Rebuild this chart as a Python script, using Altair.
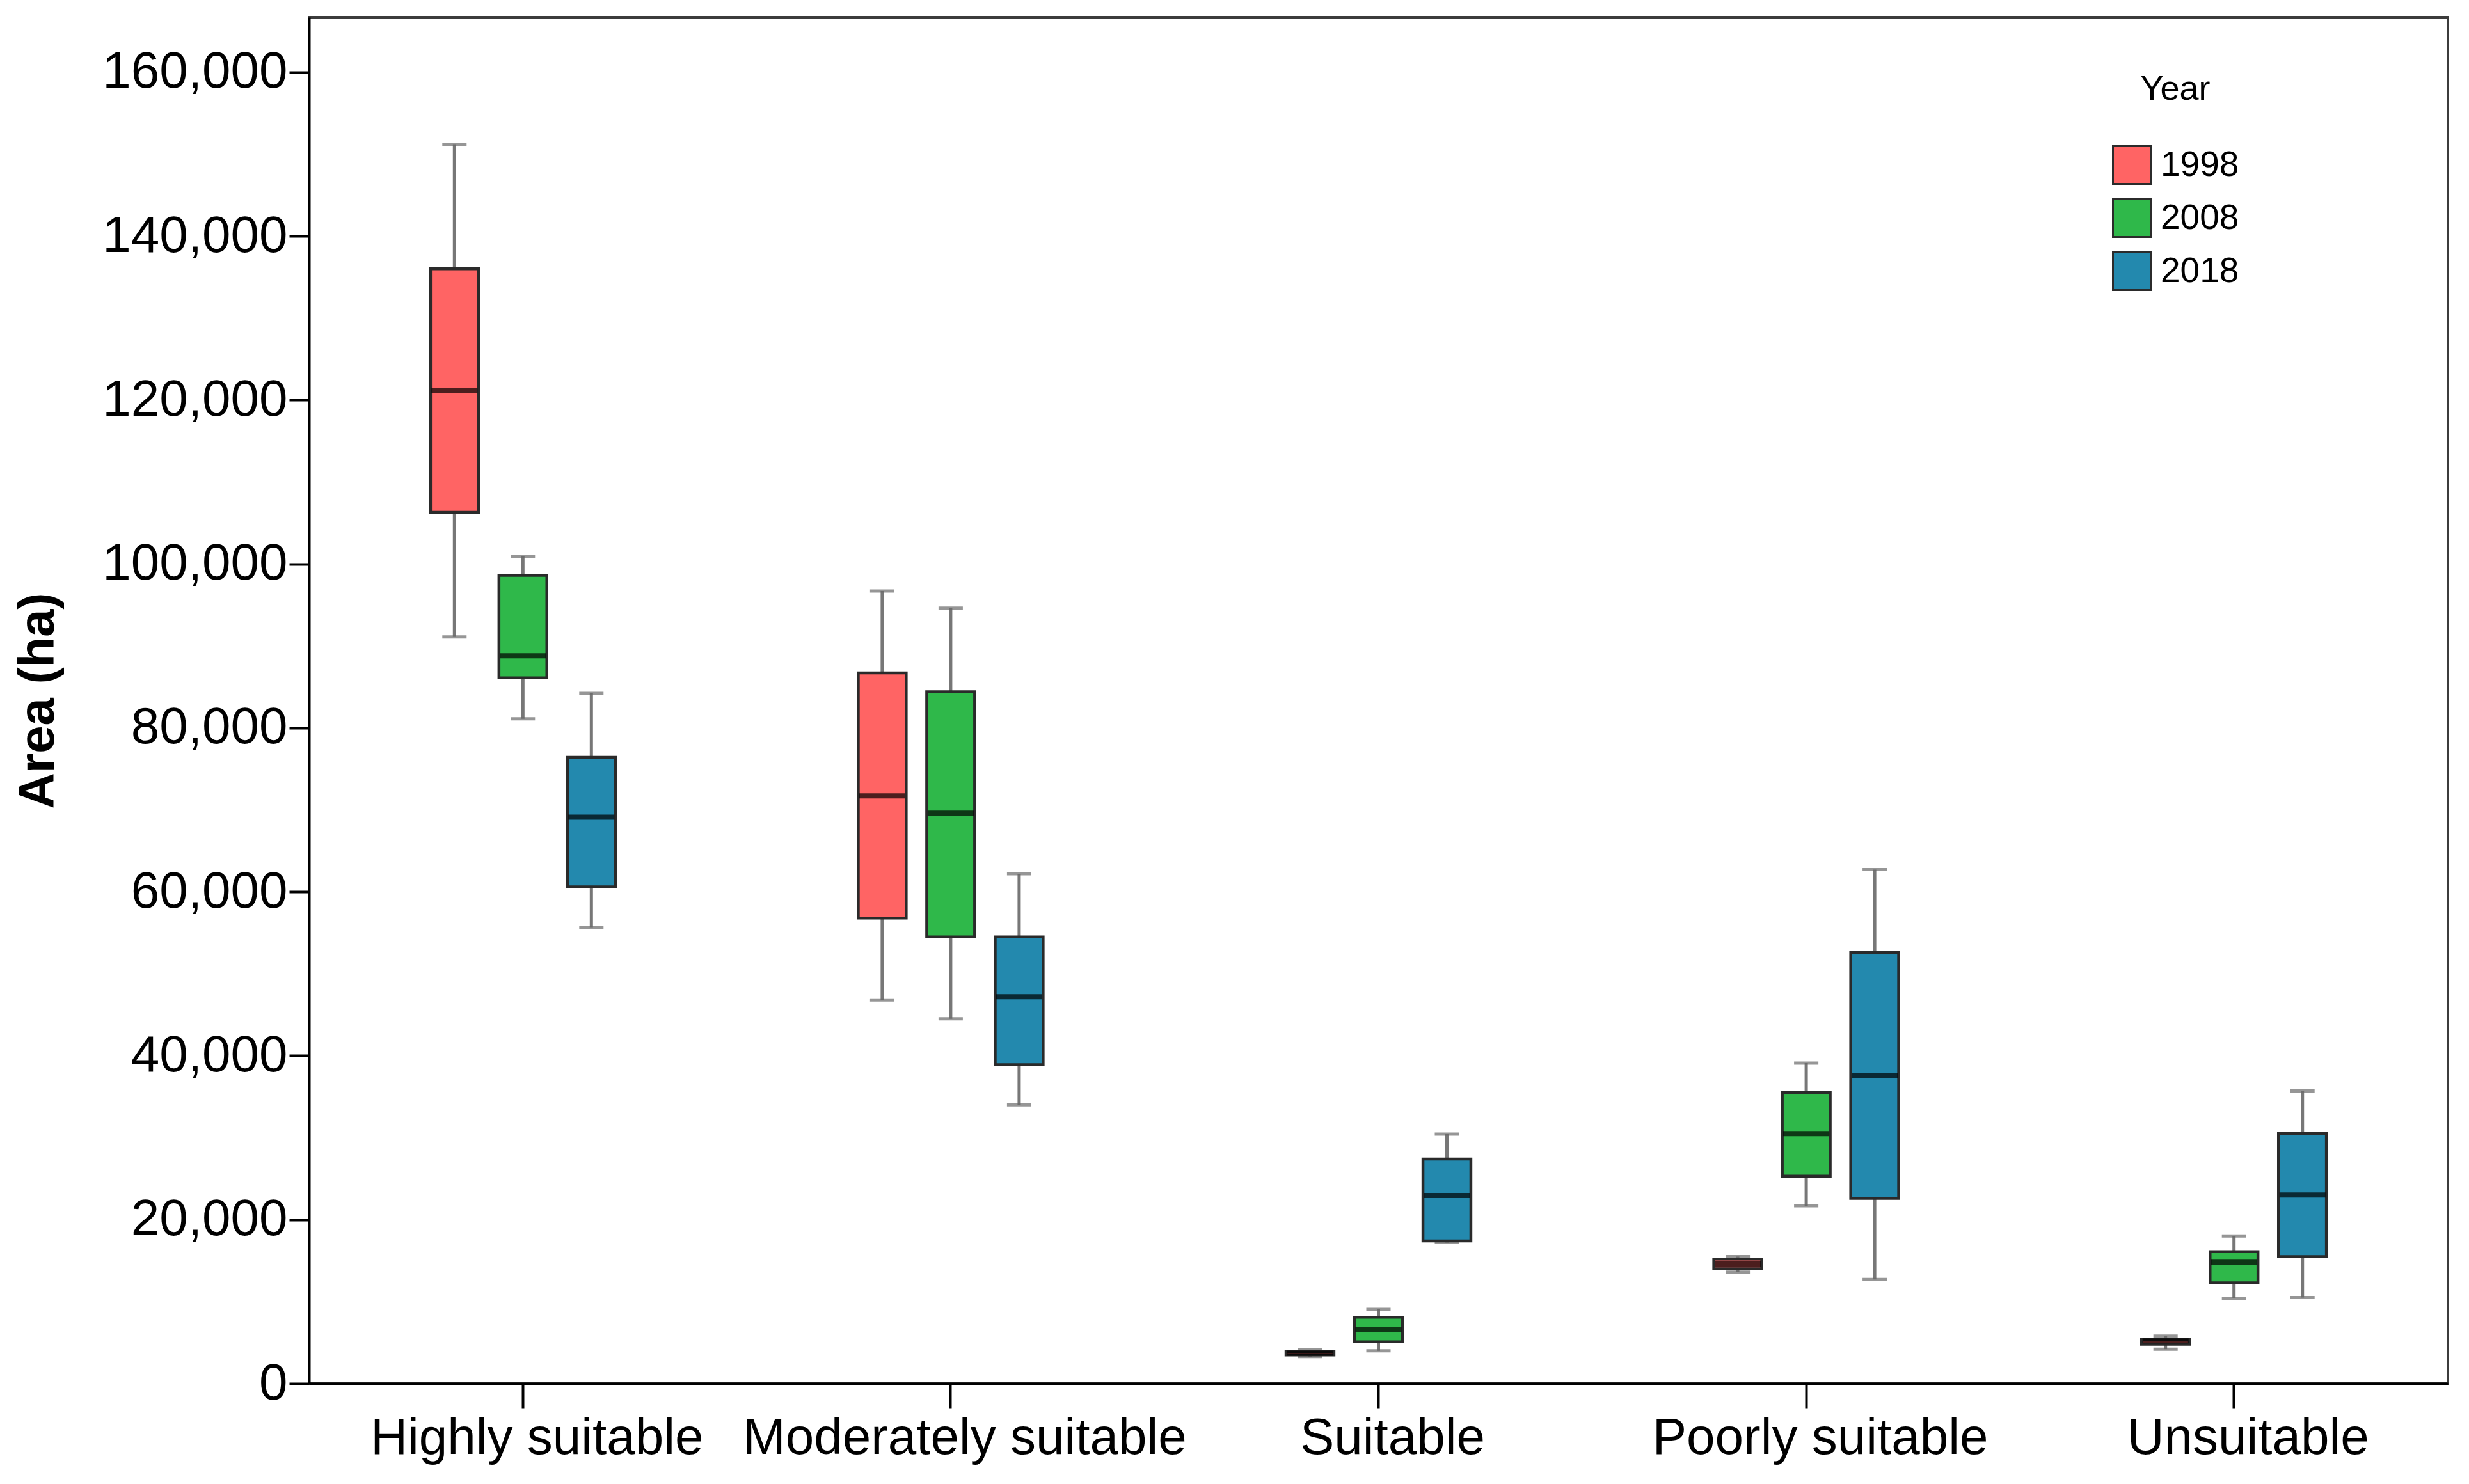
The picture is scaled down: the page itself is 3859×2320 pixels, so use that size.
import altair as alt
import pandas as pd

categories = ["Highly suitable", "Moderately suitable", "Suitable", "Poorly suitable", "Unsuitable"]
years = ["1998", "2008", "2018"]
colors = ["#FF6464", "#2FB84A", "#2389AE"]

mins = {
    "1998": [91100, 46800, 3300, 13600, 4200],
    "2008": [81100, 44500, 4000, 21700, 10400],
    "2018": [55600, 34000, 17200, 12700, 10500],
}
q1s = {
    "1998": [106300, 56800, 3500, 14000, 4800],
    "2008": [86100, 54500, 5100, 25300, 12300],
    "2018": [60600, 38900, 17400, 22600, 15500],
}
medians = {
    "1998": [121200, 71700, 3700, 14600, 5200],
    "2008": [88800, 69600, 6600, 30500, 14800],
    "2018": [69100, 47200, 22950, 37600, 23000],
}
q3s = {
    "1998": [136000, 86700, 3900, 15200, 5400],
    "2008": [98600, 84400, 8100, 35500, 16100],
    "2018": [76400, 54500, 27400, 52600, 30500],
}
maxs = {
    "1998": [151200, 96700, 4100, 15500, 5800],
    "2008": [100900, 94600, 9050, 39100, 18000],
    "2018": [84200, 62200, 30440, 62700, 35700],
}

rows = []
for yr in years:
    for i, cat in enumerate(categories):
        rows.append({
            "category": cat, "year": yr,
            "min": mins[yr][i], "q1": q1s[yr][i], "median": medians[yr][i],
            "q3": q3s[yr][i], "max": maxs[yr][i],
        })
df = pd.DataFrame(rows)

FONT = "Liberation Sans"

x_enc = alt.X(
    "category:N", sort=categories,
    scale=alt.Scale(paddingInner=0, paddingOuter=0),
    axis=alt.Axis(title=None, labelFontSize=80, labelFont=FONT, labelColor="black",
                  labelAngle=0, labelLimit=2000, labelOffset=22,
                  tickSize=38, tickWidth=4, tickColor="black",
                  labelPadding=8, domainColor="black", domainWidth=4),
)
# two empty slots at the edges keep the three boxes grouped near the band centre
xoff = alt.XOffset("year:N",
                   scale=alt.Scale(domain=["_a"] + years + ["_b"],
                                   paddingInner=0.3, paddingOuter=0.774))
yscale = alt.Scale(domain=[0, 166700], nice=False, zero=True)
yaxis = alt.Axis(
    title="Area (ha)", values=list(range(0, 160001, 20000)), format=",.0f",
    labelFontSize=80, labelFont=FONT, labelColor="black", labelPadding=3, labelLimit=2000,
    titleFontSize=78, titleFont=FONT, titleFontWeight="bold", titleColor="black",
    titleX=-400, titleBaseline="alphabetic",
    grid=False, tickSize=31, tickWidth=4, tickColor="black",
    domainColor="black", domainWidth=4,
)

base = alt.Chart(df)

whisker = base.mark_rule(color="#777777", strokeWidth=5).encode(
    x=x_enc, xOffset=xoff,
    y=alt.Y("min:Q", scale=yscale, axis=yaxis),
    y2="max:Q",
)
cap_lo = base.mark_tick(color="#6a6a6a", size=38, thickness=5).encode(
    x=x_enc, xOffset=xoff, y=alt.Y("min:Q", scale=yscale, axis=yaxis),
)
cap_hi = base.mark_tick(color="#6a6a6a", size=38, thickness=5).encode(
    x=x_enc, xOffset=xoff, y=alt.Y("max:Q", scale=yscale, axis=yaxis),
)
box = base.mark_bar(stroke="#2a2a2a", strokeWidth=4.5, opacity=1).encode(
    x=x_enc, xOffset=xoff,
    y=alt.Y("q1:Q", scale=yscale, axis=yaxis),
    y2="q3:Q",
    color=alt.Color(
        "year:N", sort=years,
        scale=alt.Scale(domain=years, range=colors),
        legend=alt.Legend(
            orient="none", legendX=2818, legendY=86, padding=0,
            title="Year", titleFontSize=54, titleFont=FONT, titleFontWeight="normal",
            titleColor="black", titleAnchor="middle", titlePadding=60,
            labelFontSize=55, labelFont=FONT, labelColor="black", labelOffset=14,
            symbolType="square", symbolSize=3481, symbolStrokeColor="#2b2b2b",
            symbolStrokeWidth=3, symbolOpacity=1, rowPadding=11,
        ),
    ),
)
median = base.mark_tick(color="black", size=72, thickness=8).encode(
    x=x_enc, xOffset=xoff, y=alt.Y("median:Q", scale=yscale, axis=yaxis),
)

chart = alt.layer(whisker, cap_lo, cap_hi, box, median).properties(
    width=3343, height=2136,
    autosize=alt.AutoSizeParams(type="none"),
    padding={"left": 475, "top": 19, "right": 25, "bottom": 150},
).configure(
    font=FONT,
).configure_view(
    stroke="#3c3c3c", strokeWidth=4,
)

chart.save("out.html", embed_options={"renderer": "svg", "actions": False})
